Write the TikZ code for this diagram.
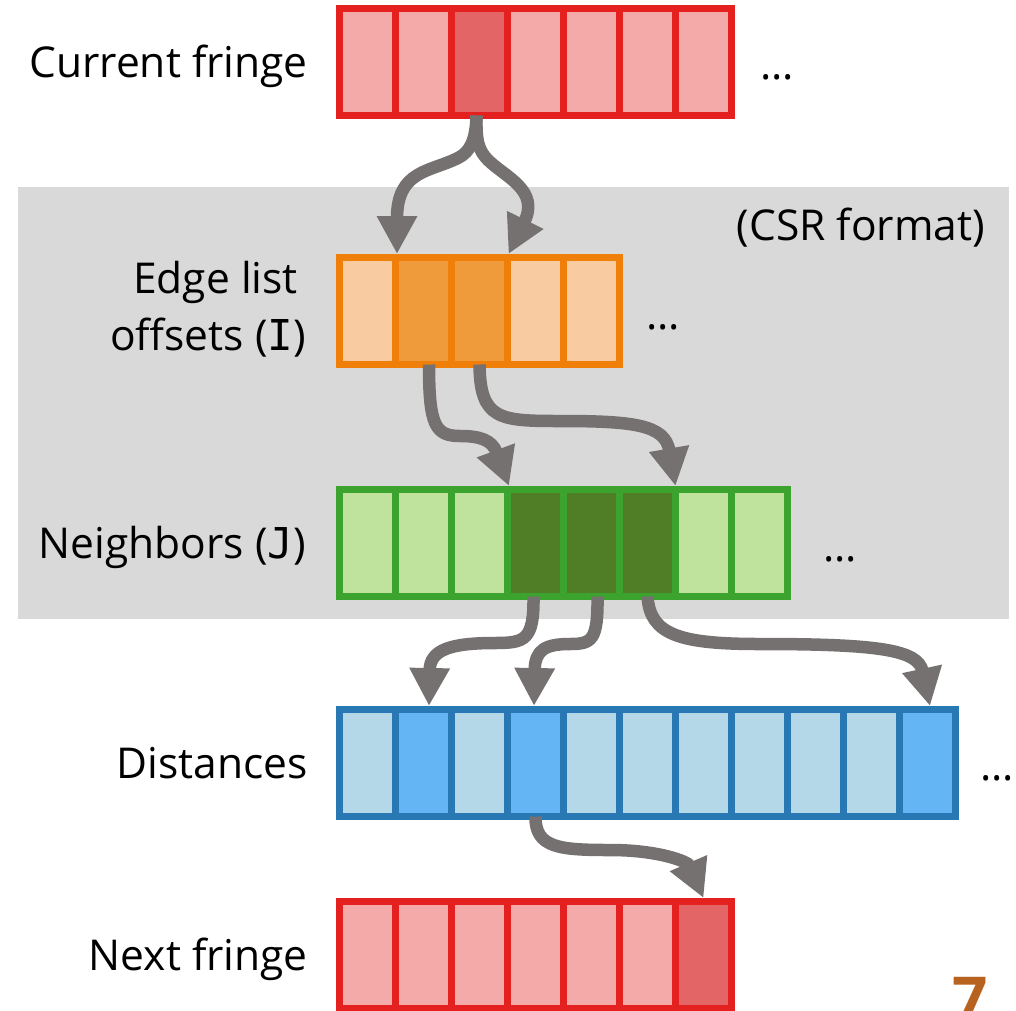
\documentclass[tikz,border=0pt]{standalone}
\usepackage{fontspec}
\setmainfont{Open Sans}
\newfontfamily\monof{DejaVu Sans Mono}
\usetikzlibrary{arrows.meta}
\definecolor{redB}{HTML}{E4211E}
\definecolor{redL}{HTML}{F5AAAA}
\definecolor{redH}{HTML}{E46565}
\definecolor{orgB}{HTML}{F07F09}
\definecolor{orgL}{HTML}{F8CBA0}
\definecolor{orgH}{HTML}{EF9A3B}
\definecolor{grnB}{HTML}{3CA32F}
\definecolor{grnL}{HTML}{BFE39C}
\definecolor{grnD}{HTML}{4F7E26}
\definecolor{bluB}{HTML}{2878B4}
\definecolor{bluL}{HTML}{B5D8E8}
\definecolor{bluH}{HTML}{63B5F4}
\definecolor{panelgray}{HTML}{D9D9D9}
\definecolor{arrowgray}{HTML}{767171}
\definecolor{pagenum}{HTML}{B8621F}
\newcommand\lblfont{\fontsize{42.5}{50}\selectfont}
\tikzset{
  cell/.style={draw, line width=7pt, minimum width=56pt, minimum height=107pt, inner sep=0pt, outer sep=0pt},
  flow/.style={draw=arrowgray, line width=12.5pt, -{Triangle[length=38pt,width=38pt]}},
  lbl/.style={anchor=base east, inner sep=0pt, font=\lblfont},
  dotslbl/.style={anchor=base west, inner sep=0pt, font=\lblfont},
}
\begin{document}
\begin{tikzpicture}[x=1pt,y=-1pt]
\useasboundingbox (0,0) rectangle (1016,1010);
\fill[panelgray] (18,187) rectangle (1009,619);

% Current fringe
\foreach \i/\f in {1/redL,2/redL,3/redH,4/redL,5/redL,6/redL,7/redL}
  \node[cell, draw=redB, fill=\f] (cur\i) at (311.5+56*\i, 62) {};
% Edge list offsets
\foreach \i/\f in {1/orgL,2/orgH,3/orgH,4/orgL,5/orgL}
  \node[cell, draw=orgB, fill=\f] (off\i) at (311.5+56*\i, 311) {};
% Neighbors
\foreach \i/\f in {1/grnL,2/grnL,3/grnL,4/grnD,5/grnD,6/grnD,7/grnL,8/grnL}
  \node[cell, draw=grnB, fill=\f] (nb\i) at (311.5+56*\i, 543) {};
% Distances
\foreach \i/\f in {1/bluL,2/bluH,3/bluL,4/bluH,5/bluL,6/bluL,7/bluL,8/bluL,9/bluL,10/bluL,11/bluH}
  \node[cell, draw=bluB, fill=\f] (dist\i) at (311.5+56*\i, 763) {};
% Next fringe
\foreach \i/\f in {1/redL,2/redL,3/redL,4/redL,5/redL,6/redL,7/redH}
  \node[cell, draw=redB, fill=\f] (nxt\i) at (311.5+56*\i, 955) {};

% Labels
\node[lbl] (lcur) at (308,77) {Current fringe};
\node[lbl] (ledgeA) at (298,293) {Edge list};
\node[lbl] (ledgeB) at (306,350) {offsets ({\monof I})};
\node[lbl] (lnb) at (306,558) {Neighbors ({\monof J})};
\node[lbl] (ldist) at (308,778) {Distances};
\node[lbl] (lnxt) at (308,970) {Next fringe};
\node[lbl] (lcsr) at (985,240) {(CSR format)};

\node[dotslbl] (dcur) at (760,79) {...};
\node[dotslbl] (doff) at (646,329) {...};
\node[dotslbl] (dnb) at (823,561) {...};
\node[dotslbl] (ddist) at (980,780) {...};

\node[anchor=north, inner sep=0pt, text=pagenum, font=\fontsize{62}{64}\selectfont\bfseries] (pnum) at (970,977) {7};

% Arrows
\draw[flow] ([xshift=-3pt]cur3.south) .. controls (476,140) and (470,152) .. (458,158)
  .. controls (430,172) and (397,170) .. ([xshift=1.5pt,yshift=3.5pt]off1.north east);
\draw[flow] ([xshift=-3pt]cur3.south) .. controls (476,140) and (478,150) .. (488,160)
  .. controls (505,177) and (540,190) .. ([xshift=1pt,yshift=3.5pt]off3.north east);

\draw[flow] ([xshift=5.5pt]off2.south) .. controls (429,425) and (435,436) .. (460,436)
  .. controls (480,436) and (492,440) .. ([xshift=1.5pt,yshift=3.5pt]nb3.north east);
\draw[flow] (off3.south) .. controls (480,420) and (500,421) .. (560,421)
  .. controls (635,421) and (665,425) .. ([yshift=3.5pt]nb6.north east);

\draw[flow] ([xshift=-2pt]nb4.south) .. controls (534,640) and (525,643) .. (495,643)
  .. controls (450,643) and (430,650) .. ([xshift=5.5pt,yshift=3.5pt]dist2.north);
\draw[flow] ([xshift=6pt]nb5.south) .. controls (598,640) and (592,644) .. (570,644)
  .. controls (545,644) and (535,650) .. ([xshift=-1.5pt,yshift=3.5pt]dist4.north);
\draw[flow] (nb6.south) .. controls (650,635) and (680,644) .. (760,644)
  .. controls (880,644) and (918,650) .. ([xshift=2.5pt,yshift=3.5pt]dist11.north);

\draw[flow] (dist4.south) .. controls (535,848) and (560,850) .. (610,850)
  .. controls (660,850) and (688,862) .. ([yshift=3.5pt]nxt7.north);
\end{tikzpicture}
\end{document}
